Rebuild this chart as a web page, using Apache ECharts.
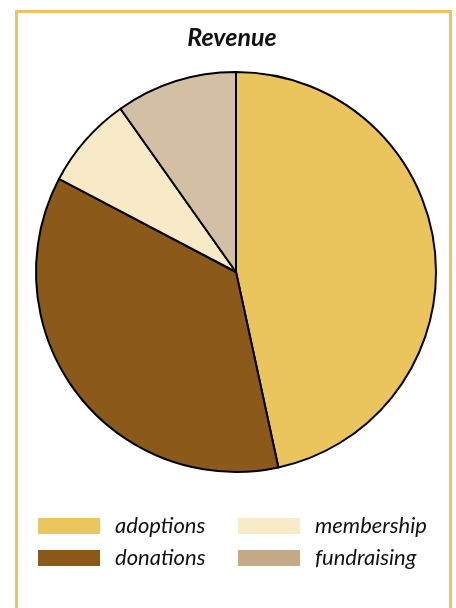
<!DOCTYPE html>
<html>
<head>
<meta charset="utf-8">
<style>
html,body{margin:0;padding:0;background:#fff;}
#c{width:456px;height:608px;}
</style>
<script src="https://cdn.jsdelivr.net/npm/echarts@6/dist/echarts.min.js"></script>
</head>
<body>
<div id="c"></div>
<script>
var titleText = 'Revenue';
var categories = ['adoptions', 'donations', 'membership', 'fundraising'];
var values = [46.6, 36.1, 7.5, 9.8];
var sliceColors = ['#EAC55E', '#8B5A1A', '#F8EAC7', '#D2BFA4'];
var legendColors = ['#EBC55E', '#8B5A1A', '#F8EBC8', '#C4AA87'];

var chart = echarts.init(document.getElementById('c'), null, {renderer: 'canvas'});
var font = 'Lato, "Open Sans", sans-serif';

function legendItems(idx) {
  return idx.map(function (i) {
    return {name: categories[i], itemStyle: {color: legendColors[i], borderWidth: 0}};
  });
}
var legendCommon = {
  orient: 'vertical',
  top: 515,
  padding: 0,
  itemWidth: 62,
  itemHeight: 16,
  itemGap: 10,
  icon: 'rect',
  selectedMode: false,
  textStyle: {fontFamily: font, fontStyle: 'italic', fontSize: 22, color: '#111', padding: [0, 0, 0, 10]},
  itemStyle: {borderWidth: 0}
};

chart.setOption({
  animation: false,
  title: {
    text: titleText,
    left: 232,
    textAlign: 'center',
    top: 25,
    padding: 0,
    textStyle: {fontFamily: font, fontStyle: 'italic', fontWeight: 'bold', fontSize: 25, color: '#111'}
  },
  legend: [
    Object.assign({}, legendCommon, {left: 38, data: legendItems([0, 1])}),
    Object.assign({}, legendCommon, {left: 238, data: legendItems([2, 3])})
  ],
  graphic: [{
    type: 'rect',
    shape: {x: 16.5, y: 11.5, width: 434, height: 700},
    style: {fill: 'none', stroke: '#EBC55E', lineWidth: 3},
    silent: true
  }],
  series: [{
    type: 'pie',
    center: [236, 272],
    radius: [0, 200],
    startAngle: 90,
    clockwise: true,
    label: {show: false},
    labelLine: {show: false},
    emphasis: {disabled: true},
    itemStyle: {borderColor: '#000', borderWidth: 2},
    data: categories.map(function (c, i) {
      return {name: c, value: values[i], itemStyle: {color: sliceColors[i]}};
    })
  }]
});
</script>
</body>
</html>
